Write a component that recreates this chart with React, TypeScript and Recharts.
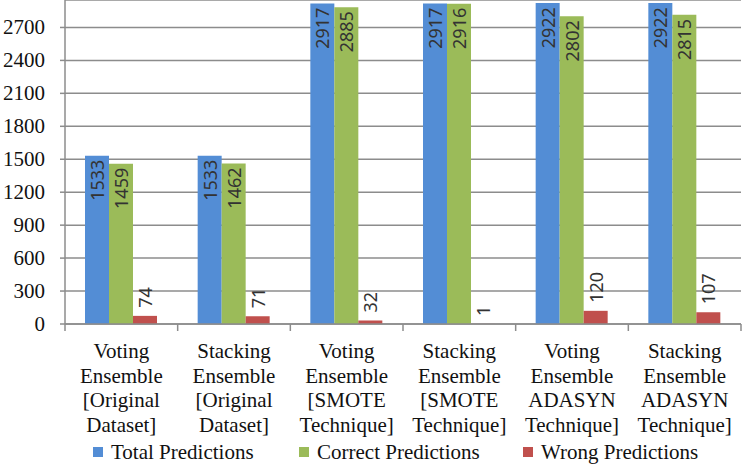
import React from "react";
import {
  BarChart,
  Bar,
  XAxis,
  YAxis,
  CartesianGrid,
  Legend,
  LabelList,
} from "recharts";

const categories = [
  "Voting\nEnsemble\n[Original\nDataset]",
  "Stacking\nEnsemble\n[Original\nDataset]",
  "Voting\nEnsemble\n[SMOTE\nTechnique]",
  "Stacking\nEnsemble\n[SMOTE\nTechnique]",
  "Voting\nEnsemble\nADASYN\nTechnique]",
  "Stacking\nEnsemble\nADASYN\nTechnique]",
];
const totalPredictions = [1533, 1533, 2917, 2917, 2922, 2922];
const correctPredictions = [1459, 1462, 2885, 2916, 2802, 2815];
const wrongPredictions = [74, 71, 32, 1, 120, 107];
const yTicks = [0, 300, 600, 900, 1200, 1500, 1800, 2100, 2400, 2700];

const series = [
  { key: "total", name: "Total Predictions", color: "#538dd5" },
  { key: "correct", name: "Correct Predictions", color: "#9bbb59" },
  { key: "wrong", name: "Wrong Predictions", color: "#c0504d" },
];

const chartData = categories.map((c, i) => ({
  category: c,
  total: totalPredictions[i],
  correct: correctPredictions[i],
  wrong: wrongPredictions[i],
}));

const SERIF = "Liberation Serif";
const SANS = "Noto Sans";
const axisGray = "#8c8c8c";

const BarValueLabel = (props: any) => {
  const vb = props.viewBox || {};
  const x = props.x ?? vb.x;
  const y = props.y ?? vb.y;
  const width = props.width ?? vb.width;
  const height = props.height ?? vb.height;
  const cx = x + width / 2;
  const inside = height > 60;
  const ty = inside ? y + 4 : y - 8;
  return (
    <text
      x={cx}
      y={ty}
      transform={`rotate(-90, ${cx}, ${ty})`}
      textAnchor={inside ? "end" : "start"}
      dominantBaseline="central"
      style={{ fontFamily: SANS, fontSize: 18 }}
      fill="#333"
    >
      {props.value}
    </text>
  );
};

const CategoryTick = (props: any) => {
  const { x, y, payload, index } = props;
  const half = payload.offset ?? 0;
  const lines = String(payload.value).split("\n");
  return (
    <g>
      <line x1={x - half} y1={y} x2={x - half} y2={y + 7} stroke={axisGray} strokeWidth={1.5} />
      {index === categories.length - 1 && (
        <line x1={x + half} y1={y} x2={x + half} y2={y + 7} stroke={axisGray} strokeWidth={1.5} />
      )}
      {lines.map((line, i) => (
        <text
          key={i}
          x={x}
          y={y + 34 + i * 24.5}
          textAnchor="middle"
          style={{ fontFamily: SERIF, fontSize: 21 }}
          fill="#111"
        >
          {line}
        </text>
      ))}
    </g>
  );
};

const YTick = (props: any) => {
  const { x, y, payload } = props;
  return (
    <text x={x} y={y} dy={7} textAnchor="end" style={{ fontFamily: SERIF, fontSize: 21 }} fill="#111">
      {payload.value}
    </text>
  );
};

const legendWidths = [206, 224, 220];

const LegendContent = () => (
  <div
    style={{
      display: "flex",
      alignItems: "center",
      paddingLeft: 93,
      fontFamily: SERIF,
      fontSize: 21,
      color: "#111",
      lineHeight: "24px",
    }}
  >
    {series.map((s, i) => (
      <div
        key={s.key}
        style={{ display: "flex", alignItems: "center", width: legendWidths[i] }}
      >
        <span
          style={{ width: 10, height: 10, background: s.color, marginRight: 8, display: "inline-block" }}
        />
        <span>{s.name}</span>
      </div>
    ))}
  </div>
);

export default function App() {
  return (
    <div style={{ position: "absolute", left: 0, top: 0, background: "#fff" }}>
      <BarChart
        width={744}
        height={470}
        data={chartData}
        margin={{ top: 0, right: 3, left: 0, bottom: 0 }}
        barCategoryGap={20}
        barGap={0}
      >
        <CartesianGrid vertical={false} stroke={axisGray} strokeWidth={1.5} />
        <XAxis
          dataKey="category"
          interval={0}
          height={116}
          tickSize={0}
          tickMargin={0}
          tickLine={false}
          axisLine={{ stroke: axisGray, strokeWidth: 1.5 }}
          tick={<CategoryTick />}
        />
        <YAxis
          domain={[0, 2950]}
          ticks={yTicks}
          width={65}
          tickSize={5}
          tickMargin={15}
          tickLine={{ stroke: axisGray, strokeWidth: 1.5 }}
          axisLine={{ stroke: axisGray, strokeWidth: 1.5 }}
          tick={<YTick />}
          allowDataOverflow
        />
        <Legend verticalAlign="bottom" height={30} wrapperStyle={{ left: 0, width: 744 }} content={<LegendContent />} />
        {series.map((s) => (
          <Bar key={s.key} dataKey={s.key} name={s.name} fill={s.color} isAnimationActive={false}>
            <LabelList dataKey={s.key} content={<BarValueLabel />} />
          </Bar>
        ))}
      </BarChart>
    </div>
  );
}
